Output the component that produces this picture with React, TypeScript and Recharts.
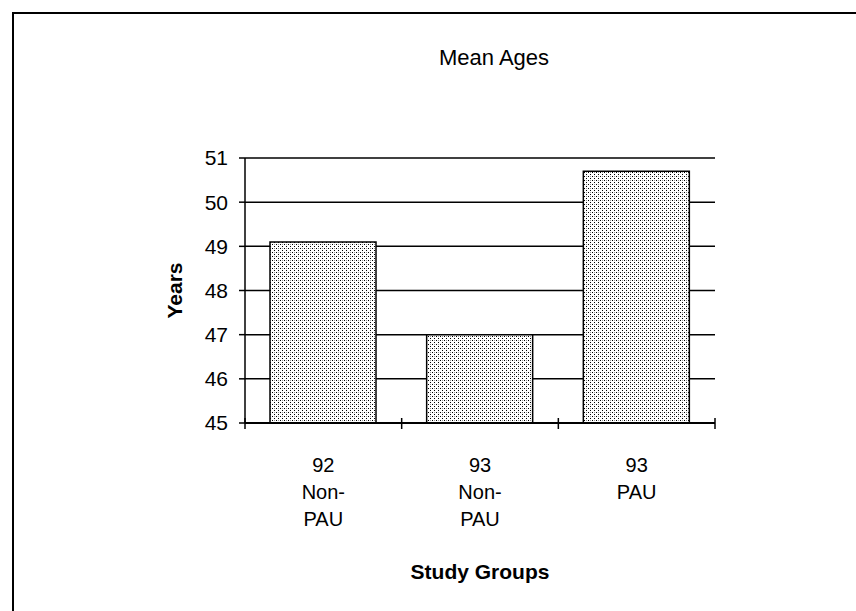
import { BarChart, Bar, XAxis, YAxis, CartesianGrid, Label } from 'recharts';

// study groups (line breaks as in the original axis labels)
const groups = ['92\nNon-\nPAU', '93\nNon-\nPAU', '93\nPAU'];
const meanAges = [49.1, 47.0, 50.7];
const yTicks = [45, 46, 47, 48, 49, 50, 51];

const data = groups.map((g, i) => ({ group: g, age: meanAges[i] }));

const FONT = '"Liberation Sans", Arial, sans-serif';
const W = 856;
const H = 611;
const margin = { top: 158, right: 141, left: 155, bottom: 28 };
const Y_AXIS_W = 90;
const plotWidth = W - margin.left - margin.right - Y_AXIS_W;
const band = plotWidth / groups.length;

interface TickProps {
  x?: number;
  y?: number;
  index?: number;
  payload?: { value: string };
}

// category label on several lines, plus the boundary tick marks
const GroupTick = ({ x = 0, y = 0, index = 0, payload }: TickProps) => {
  const lines = (payload?.value ?? '').split('\n');
  const left = x - band / 2;
  const right = x + band / 2;
  return (
    <g>
      <line x1={left} x2={left} y1={y - 5} y2={y + 6} stroke="#000" strokeWidth={1.5} />
      {index === groups.length - 1 && (
        <line x1={right} x2={right} y1={y - 5} y2={y + 6} stroke="#000" strokeWidth={1.5} />
      )}
      <text x={x} y={y + 49} textAnchor="middle" fontSize={20} fontFamily={FONT} fill="#000">
        {lines.map((l, i) => (
          <tspan key={i} x={x} dy={i === 0 ? 0 : 27}>
            {l}
          </tspan>
        ))}
      </text>
    </g>
  );
};

export default function App() {
  return (
    <div
      style={{
        position: 'absolute',
        left: 0,
        top: 0,
        width: W,
        height: H,
        overflow: 'hidden',
        background: '#fff',
      }}
    >
      <div
        style={{
          position: 'absolute',
          left: 12,
          top: 12,
          width: 900,
          height: 700,
          border: '2px solid #000',
        }}
      />
      <div
        style={{
          position: 'absolute',
          left: 344,
          top: 45,
          width: 300,
          textAlign: 'center',
          fontFamily: FONT,
          fontSize: 22,
          lineHeight: '26px',
          color: '#000',
        }}
      >
        Mean Ages
      </div>
      <div style={{ position: 'absolute', left: 0, top: 0 }}>
        <BarChart width={W} height={H} data={data} margin={margin}>
          <defs>
            <pattern id="stipple" width="4" height="4" patternUnits="userSpaceOnUse">
              <rect width="4" height="4" fill="#fff" />
              <rect x="0" y="0" width="1" height="1" fill="#000" />
              <rect x="2" y="2" width="1" height="1" fill="#000" />
              <rect x="2" y="0" width="1" height="1" fill="#999" />
            </pattern>
          </defs>
          <CartesianGrid vertical={false} stroke="#000" strokeWidth={1.5} />
          <XAxis
            dataKey="group"
            height={160}
            tickSize={0}
            tickMargin={0}
            tickLine={false}
            interval={0}
            axisLine={{ stroke: '#000', strokeWidth: 2 }}
            tick={<GroupTick />}
          >
            <Label
              value="Study Groups"
              position="insideBottom"
              offset={4}
              style={{ fontFamily: FONT, fontSize: 21, fontWeight: 'bold', fill: '#000' }}
            />
          </XAxis>
          <YAxis
            width={Y_AXIS_W}
            domain={[45, 51]}
            ticks={yTicks}
            interval={0}
            tickSize={6}
            tickMargin={11}
            axisLine={{ stroke: '#000', strokeWidth: 1.5 }}
            tickLine={{ stroke: '#000', strokeWidth: 1.5 }}
            tick={{ fill: '#000', fontSize: 21, fontFamily: FONT }}
          >
            <Label
              value="Years"
              angle={-90}
              position="insideLeft"
              offset={20}
              style={{
                fontFamily: FONT,
                fontSize: 21,
                fontWeight: 'bold',
                fill: '#000',
                textAnchor: 'middle',
              }}
            />
          </YAxis>
          <Bar
            dataKey="age"
            barSize={106}
            fill="url(#stipple)"
            stroke="#000"
            strokeWidth={1.5}
            isAnimationActive={false}
          />
        </BarChart>
      </div>
    </div>
  );
}
